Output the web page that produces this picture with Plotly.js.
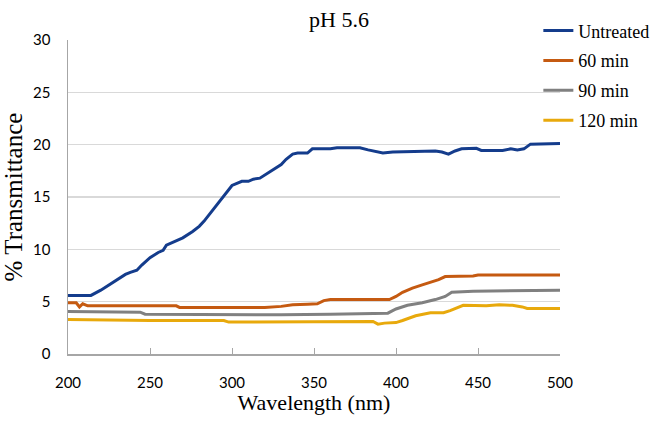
<!DOCTYPE html>
<html>
<head>
<meta charset="utf-8">
<script src="https://cdn.plot.ly/plotly-3.0.1.min.js"></script>
<style>html,body{margin:0;padding:0;background:#fff;}#chart{width:652px;height:421px;}</style>
</head>
<body>
<div id="chart"></div>
<script>
// Series names
const seriesNames = ["Untreated", "60 min", "90 min", "120 min"];

// Untreated
const wlUntreated = [200,214,220,225,230,235,238,242,245,250,255,258,260,263,266,270,276,280,283,286,290,294,297,300,303,306,310,313,317,320,325,330,333,337,340,346,349,360,364,378,383,388,392,398,410,420,424,428,432,436,440,449,452,465,470,474,478,482,490,500];
const tUntreated  = [5.6,5.6,6.1,6.6,7.1,7.6,7.8,8.0,8.5,9.2,9.7,9.9,10.4,10.6,10.8,11.1,11.7,12.2,12.7,13.3,14.0,14.8,15.5,16.1,16.3,16.5,16.5,16.7,16.8,17.1,17.6,18.1,18.6,19.1,19.2,19.2,19.6,19.6,19.7,19.7,19.5,19.3,19.2,19.3,19.35,19.4,19.4,19.3,19.1,19.4,19.6,19.65,19.45,19.45,19.6,19.5,19.6,20.05,20.1,20.1];

// 60 min
const wl60 = [200,205,207,209,212,266,268,300,320,330,337,346,352,356,360,396,400,404,410,416,421,426,430,447,450,500];
const t60  = [4.9,4.9,4.5,4.8,4.6,4.6,4.45,4.45,4.45,4.55,4.7,4.75,4.8,5.1,5.2,5.2,5.5,5.9,6.3,6.6,6.85,7.1,7.4,7.45,7.55,7.55];

// 90 min
const wl90 = [200,244,247,300,330,360,390,395,400,407,416,424,430,434,447,500];
const t90  = [4.05,4.0,3.8,3.75,3.75,3.8,3.85,3.9,4.3,4.65,4.9,5.2,5.5,5.9,6.0,6.1];

// 120 min
const wl120 = [200,250,295,298,386,389,393,400,404,412,421,429,433,441,455,463,471,477,480,500];
const t120  = [3.3,3.2,3.2,3.05,3.1,2.85,2.95,3.0,3.2,3.65,3.95,3.95,4.15,4.65,4.6,4.7,4.65,4.5,4.35,4.35];

// Axis ticks
const xTicks = [200,250,300,350,400,450,500];
const yTicks = [0,5,10,15,20,25,30];

const colors = ["#143c8c", "#c55a11", "#808080", "#e8a90c"];
const xs = [wlUntreated, wl60, wl90, wl120];
const ys = [tUntreated, t60, t90, t120];

const traces = seriesNames.map((n, i) => ({
  x: xs[i], y: ys[i], name: n, type: "scatter", mode: "lines",
  legendgroup: "g" + i,
  line: {color: colors[i], width: 3}
}));

const serif = "Liberation Serif, Times New Roman, serif";
const sans = "Lato, Open Sans, sans-serif";

const layout = {
  width: 652, height: 421,
  margin: {l: 68, r: 92, t: 40, b: 67, autoexpand: false},
  paper_bgcolor: "#fff", plot_bgcolor: "#fff",
  showlegend: true,
  title: {text: "pH 5.6", x: 0.52, xanchor: "center", y: 0.955, yanchor: "middle", yref: "container",
          font: {family: serif, size: 22, color: "#000"}},
  xaxis: {
    range: [200, 500], tickvals: xTicks, ticktext: xTicks.map(String),
    showgrid: false, zeroline: false, showline: true, linecolor: "#a6a6a6", linewidth: 1.5,
    ticks: "inside", ticklen: 6, tickcolor: "#a6a6a6", tickwidth: 1,
    ticklabelstandoff: 14,
    tickfont: {family: sans, size: 15, color: "#000"},
    title: {text: "Wavelength (nm)", standoff: 4, font: {family: serif, size: 22, color: "#000"}}
  },
  yaxis: {
    range: [0, 30], tickvals: yTicks, ticktext: yTicks.map(String),
    showgrid: true, gridcolor: "#d9d9d9", gridwidth: 1.5, zeroline: false,
    showline: true, linecolor: "#a6a6a6", linewidth: 1.5, ticks: "",
    ticklabelstandoff: 13,
    tickfont: {family: sans, size: 15, color: "#000"},
    title: {text: "% Transmittance", standoff: 8, font: {family: serif, size: 25, color: "#000"}}
  },
  legend: {
    x: 0.956, xanchor: "left", y: 1.088, yanchor: "top",
    bgcolor: "rgba(0,0,0,0)", borderwidth: 0,
    font: {family: serif, size: 18, color: "#000"},
    tracegroupgap: 3.5, itemwidth: 30
  }
};

Plotly.newPlot("chart", traces, layout, {displayModeBar: false, staticPlot: true});
</script>
</body>
</html>
